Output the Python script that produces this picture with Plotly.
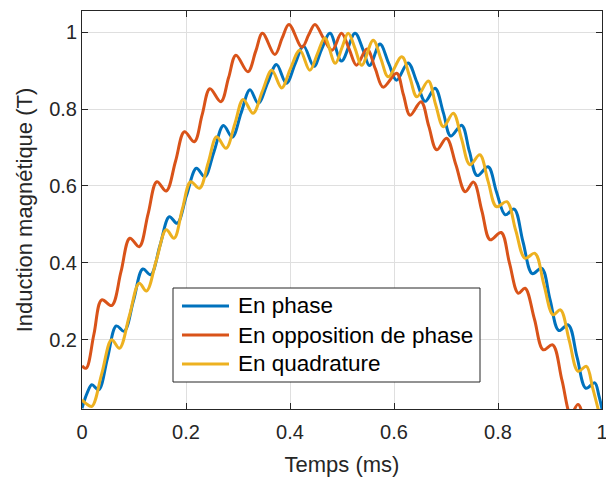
import plotly.graph_objects as go

# Temps (ms) and induction (T)
t_phase = [0.000, 0.010, 0.019, 0.032, 0.049, 0.066, 0.081, 0.099, 0.117, 0.132,
           0.150, 0.168, 0.183, 0.201, 0.220, 0.236, 0.254, 0.272, 0.289, 0.306,
           0.323, 0.339, 0.357, 0.374, 0.393, 0.410, 0.426, 0.446, 0.461, 0.477,
           0.499, 0.525, 0.540, 0.553, 0.573, 0.590, 0.605, 0.627, 0.644, 0.660,
           0.679, 0.695, 0.709, 0.730, 0.745, 0.760, 0.781, 0.797, 0.814, 0.831,
           0.848, 0.866, 0.884, 0.900, 0.917, 0.935, 0.952, 0.969, 0.986, 0.994, 1.000]
b_phase = [0.022, 0.062, 0.083, 0.070, 0.152, 0.236, 0.222, 0.302, 0.384, 0.369,
           0.445, 0.520, 0.503, 0.575, 0.646, 0.624, 0.690, 0.757, 0.727, 0.790,
           0.850, 0.815, 0.868, 0.916, 0.867, 0.918, 0.964, 0.911, 0.956, 0.997,
           0.925, 0.997, 0.956, 0.913, 0.969, 0.918, 0.875, 0.920, 0.870, 0.820,
           0.854, 0.790, 0.730, 0.758, 0.690, 0.627, 0.650, 0.585, 0.525, 0.540,
           0.455, 0.372, 0.386, 0.305, 0.224, 0.239, 0.155, 0.074, 0.088, 0.055, 0.020]

t_opp = [0.000, 0.008, 0.023, 0.038, 0.057, 0.075, 0.092, 0.110, 0.127, 0.144,
         0.162, 0.180, 0.197, 0.216, 0.231, 0.246, 0.267, 0.282, 0.296, 0.319,
         0.334, 0.347, 0.371, 0.385, 0.398, 0.423, 0.436, 0.448, 0.464, 0.481,
         0.499, 0.514, 0.528, 0.548, 0.564, 0.579, 0.605, 0.618, 0.631, 0.652,
         0.667, 0.682, 0.701, 0.719, 0.737, 0.753, 0.769, 0.785, 0.806, 0.822,
         0.839, 0.852, 0.870, 0.887, 0.905, 0.923, 0.940, 0.954, 0.972, 1.000]
b_opp = [0.132, 0.126, 0.215, 0.304, 0.289, 0.377, 0.464, 0.442, 0.527, 0.611,
         0.587, 0.665, 0.741, 0.715, 0.785, 0.853, 0.819, 0.882, 0.940, 0.897,
         0.950, 0.997, 0.942, 0.985, 1.020, 0.961, 0.993, 1.020, 0.985, 0.953,
         0.997, 0.955, 0.914, 0.956, 0.905, 0.857, 0.893, 0.838, 0.784, 0.819,
         0.755, 0.694, 0.724, 0.655, 0.585, 0.610, 0.535, 0.460, 0.479, 0.400,
         0.321, 0.334, 0.254, 0.174, 0.187, 0.095, 0.006, 0.032, -0.050, -0.160]

t_quad = [0.000, 0.008, 0.019, 0.038, 0.057, 0.072, 0.091, 0.110, 0.124, 0.143,
          0.162, 0.177, 0.193, 0.209, 0.226, 0.243, 0.259, 0.277, 0.294, 0.310,
          0.329, 0.347, 0.365, 0.384, 0.401, 0.419, 0.438, 0.453, 0.467, 0.487,
          0.500, 0.512, 0.525, 0.538, 0.560, 0.575, 0.589, 0.615, 0.630, 0.644,
          0.666, 0.680, 0.695, 0.714, 0.730, 0.746, 0.765, 0.781, 0.797, 0.817,
          0.834, 0.852, 0.871, 0.888, 0.906, 0.920, 0.937, 0.954, 0.970, 0.982,
          0.993, 1.000]
b_quad = [0.044, 0.034, 0.027, 0.112, 0.200, 0.178, 0.262, 0.347, 0.327, 0.407,
          0.486, 0.464, 0.540, 0.611, 0.594, 0.662, 0.728, 0.698, 0.762, 0.825,
          0.789, 0.847, 0.901, 0.855, 0.906, 0.953, 0.901, 0.945, 0.985, 0.919,
          0.960, 0.997, 0.958, 0.914, 0.979, 0.930, 0.884, 0.936, 0.885, 0.832,
          0.873, 0.812, 0.754, 0.789, 0.722, 0.655, 0.681, 0.612, 0.546, 0.559,
          0.485, 0.412, 0.425, 0.345, 0.265, 0.278, 0.198, 0.118, 0.131, 0.075,
          0.018, -0.015]

series_names = ["En phase", "En opposition de phase", "En quadrature"]
series_colors = ["#0072BD", "#D95319", "#EDB120"]

x_ticks = [0, 0.2, 0.4, 0.6, 0.8, 1]
x_tick_text = ["0", "0.2", "0.4", "0.6", "0.8", "1"]
y_ticks = [0.2, 0.4, 0.6, 0.8, 1]
y_tick_text = ["0.2", "0.4", "0.6", "0.8", "1"]

FONT = "Liberation Sans, Arial, sans-serif"

fig = go.Figure()
for xs, ys, name, col in zip([t_phase, t_opp, t_quad], [b_phase, b_opp, b_quad],
                             series_names, series_colors):
    fig.add_trace(go.Scatter(x=xs, y=ys, mode="lines", name=name, showlegend=False,
                             line=dict(color=col, width=3, shape="spline", smoothing=1.0)))

axis_common = dict(
    showline=True, linecolor="#262626", linewidth=1, mirror="ticks",
    ticks="inside", ticklen=6, tickcolor="#262626", tickwidth=1,
    showgrid=True, gridcolor="#dfdfdf", gridwidth=1, zeroline=False,
    ticklabeloverflow="allow",
    tickfont=dict(family=FONT, size=20, color="#262626"),
)

fig.update_xaxes(range=[0, 1], tickvals=x_ticks, ticktext=x_tick_text,
                 ticklabelstandoff=5,
                 title=dict(text="Temps (ms)", standoff=14,
                            font=dict(family=FONT, size=22, color="#262626")),
                 **axis_common)
fig.update_yaxes(range=[0.02, 1.055], tickvals=y_ticks, ticktext=y_tick_text,
                 title=dict(text="Induction magnétique (T)", standoff=10,
                            font=dict(family=FONT, size=22, color="#262626")),
                 **axis_common)

# Legend box drawn in paper coordinates (MATLAB-style legend)
leg_x0, leg_x1, leg_y0, leg_y1 = 0.175, 0.7654, 0.0678, 0.304
leg_line_x0, leg_line_x1, leg_text_x = 0.1923, 0.2827, 0.2962
leg_rows = [0.2588, 0.1859, 0.1131]

fig.add_shape(type="rect", xref="paper", yref="paper",
              x0=leg_x0, x1=leg_x1, y0=leg_y0, y1=leg_y1,
              line=dict(color="#262626", width=1), fillcolor="white", layer="above")
for yr, name, col in zip(leg_rows, series_names, series_colors):
    fig.add_shape(type="line", xref="paper", yref="paper",
                  x0=leg_line_x0, x1=leg_line_x1, y0=yr, y1=yr,
                  line=dict(color=col, width=3), layer="above")
    fig.add_annotation(xref="paper", yref="paper", x=leg_text_x, y=yr,
                       xanchor="left", yanchor="middle", text=name, showarrow=False,
                       font=dict(family=FONT, size=22.5, color="black"))

fig.update_layout(
    width=606, height=477,
    margin=dict(l=82, r=4, t=11, b=68, autoexpand=False),
    paper_bgcolor="white", plot_bgcolor="white",
    showlegend=False,
)

fig.write_html("out.html", config={"displayModeBar": False},
               post_script="document.body.style.margin='0';document.body.style.overflow='hidden';")
